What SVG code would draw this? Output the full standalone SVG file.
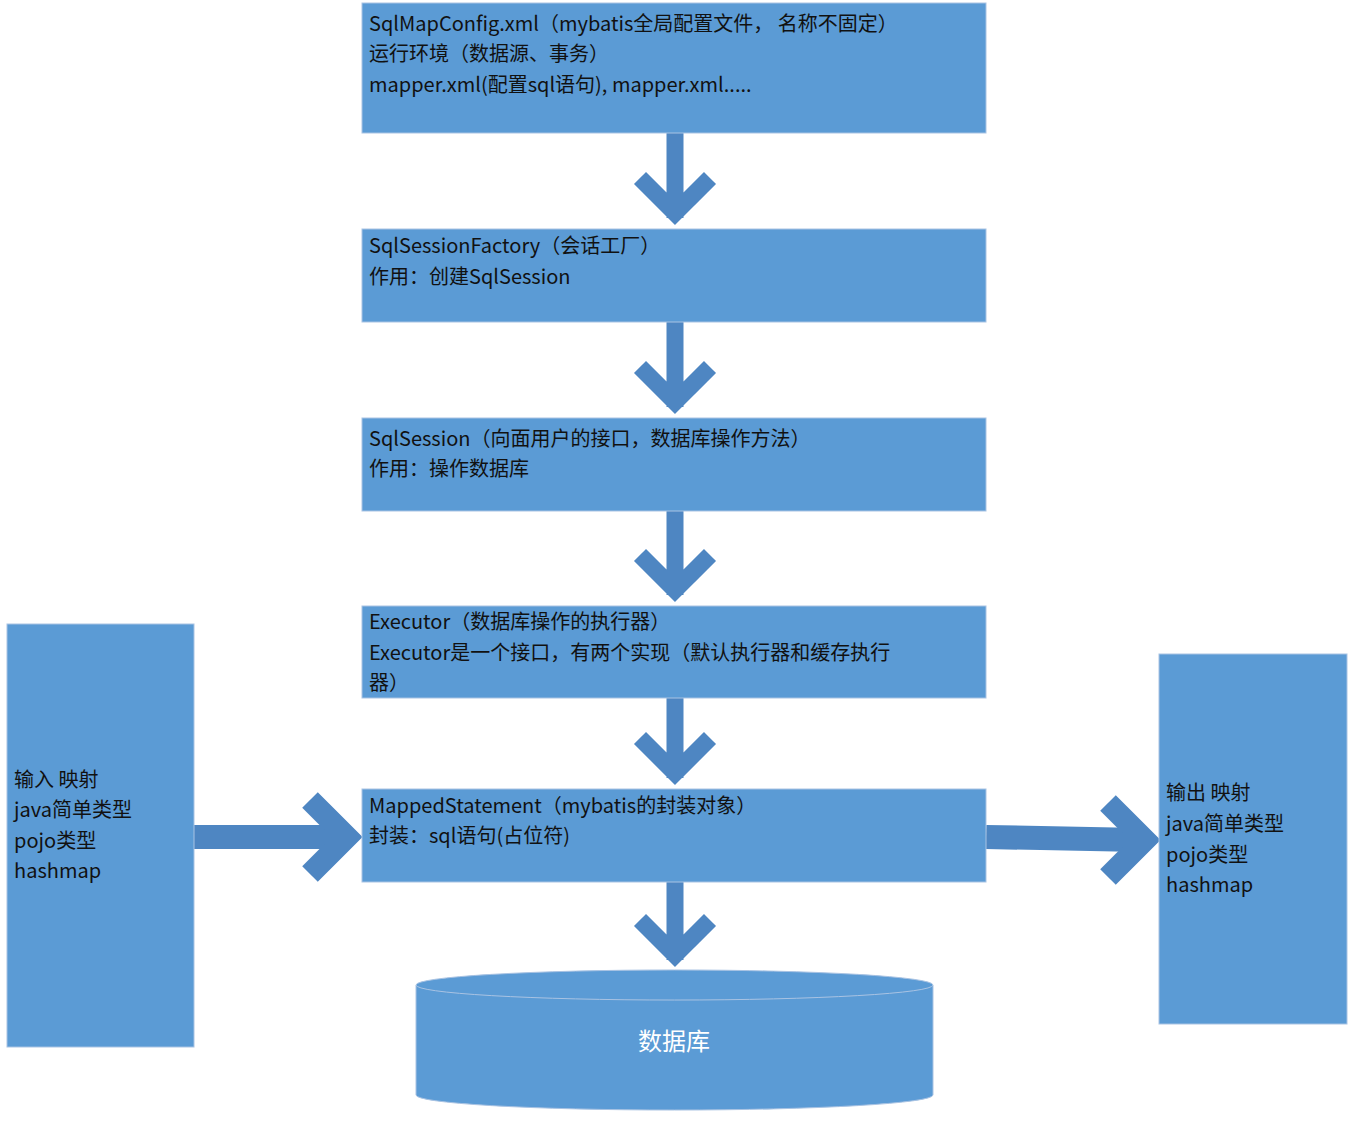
<svg xmlns="http://www.w3.org/2000/svg" width="1354" height="1130" viewBox="0 0 1354 1130">
<style>
.b{fill:#5b9bd5;stroke:#a9c3e3;stroke-width:1}
.t{font-family:"Noto Sans CJK SC","Noto Sans",sans-serif;font-size:20px;fill:#111}
.a{fill:none;stroke:#4e86c2;stroke-linejoin:miter;stroke-miterlimit:10}
</style>
<rect width="1354" height="1130" fill="#fff"/>
<g id="connectors">
<g class="a" stroke-width="17">
<path d="M675 133V218M640 178L675 213L710 178"/>
<path d="M675 322V407M640 367L675 402L710 367"/>
<path d="M675 511V595M640 555L675 590L710 555"/>
<path d="M675 698V778M640 738L675 773L710 738"/>
<path d="M675 882V960M640 920L675 955L710 920"/>
</g>
<g class="a">
<path d="M194 837H340" stroke-width="24"/>
<path d="M310 800L347 837L310 874" stroke-width="22"/>
<path d="M986 837L1140 840" stroke-width="24"/>
<path d="M1108 803L1145 840L1108 877" stroke-width="22"/>
</g>
</g>
<g id="n1"><rect class="b" x="362" y="3" width="624" height="130"/>
<text class="t" x="369" y="31">SqlMapConfig.xml（mybatis全局配置文件， 名称不固定）</text>
<text class="t" x="369" y="61">运行环境（数据源、事务）</text>
<text class="t" x="369" y="92">mapper.xml(配置sql语句), mapper.xml.....</text></g>
<g id="n2"><rect class="b" x="362" y="229" width="624" height="93"/>
<text class="t" x="369" y="253">SqlSessionFactory（会话工厂）</text>
<text class="t" x="369" y="284">作用：创建SqlSession</text></g>
<g id="n3"><rect class="b" x="362" y="418" width="624" height="93"/>
<text class="t" x="369" y="446">SqlSession（向面用户的接口，数据库操作方法）</text>
<text class="t" x="369" y="476">作用：操作数据库</text></g>
<g id="n4"><rect class="b" x="362" y="606" width="624" height="92"/>
<text class="t" x="369" y="629">Executor（数据库操作的执行器）</text>
<text class="t" x="369" y="660">Executor是一个接口，有两个实现（默认执行器和缓存执行</text>
<text class="t" x="369" y="690">器）</text></g>
<g id="n5"><rect class="b" x="362" y="789" width="624" height="93"/>
<text class="t" x="369" y="813">MappedStatement（mybatis的封装对象）</text>
<text class="t" x="369" y="843">封装：sql语句(占位符)</text></g>
<g id="in"><rect class="b" x="7" y="624" width="187" height="423"/>
<text class="t" x="14" y="787">输入 映射</text>
<text class="t" x="14" y="817">java简单类型</text>
<text class="t" x="14" y="848">pojo类型</text>
<text class="t" x="14" y="878">hashmap</text></g>
<g id="out"><rect class="b" x="1159" y="654" width="188" height="370"/>
<text class="t" x="1166" y="800">输出 映射</text>
<text class="t" x="1166" y="831">java简单类型</text>
<text class="t" x="1166" y="862">pojo类型</text>
<text class="t" x="1166" y="892">hashmap</text></g>
<g id="db">
<path class="b" d="M416 985A258 15 0 0 1 933 985V1095A258 15 0 0 1 416 1095Z"/>
<path d="M416 985A258 15 0 0 0 933 985" fill="none" stroke="#a9c3e3"/>
<text x="674" y="1050" text-anchor="middle" font-family="Noto Sans CJK SC,sans-serif" font-size="24" fill="#fff">数据库</text></g>
</svg>
